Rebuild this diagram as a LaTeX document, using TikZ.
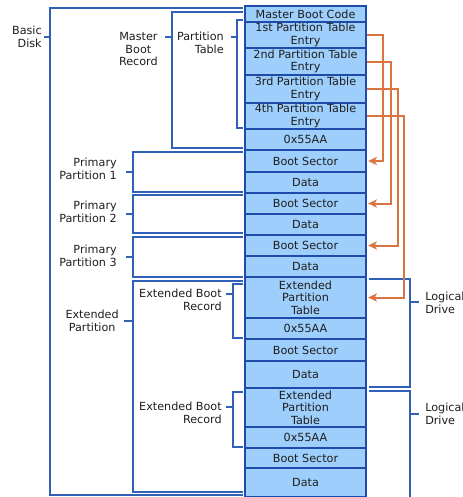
\documentclass[tikz,border=0pt]{standalone}
\usepackage{fontspec}
\setmainfont{DejaVu Sans}
\usetikzlibrary{arrows.meta}
\definecolor{cellfill}{HTML}{9ECEFB}
\definecolor{cellborder}{HTML}{1F4BAA}
\definecolor{brcol}{HTML}{3060B8}
\definecolor{orng}{HTML}{DB7440}
\definecolor{txt}{HTML}{1E1E1E}
\newcommand\cellnode[4]{\node[cell, minimum height={(#3-#2)*0.75pt}] (#1) at (305.5,{(#2+#3)/2}) {#4};}
\begin{document}
\begin{tikzpicture}[x=0.75pt,y=-0.75pt,
  font=\fontsize{8.4}{9.5}\selectfont,
  cell/.style={draw=cellborder, fill=cellfill, line width=0.8pt, minimum width=90.75pt, inner sep=0pt, align=center, text=txt},
  br/.style={draw=brcol, line width=1.2pt},
  lbl/.style={text=txt, inner sep=0pt},
  oarr/.style={draw=orng, line width=1.5pt, -{Stealth[length=6.5pt,width=6pt,inset=1.5pt]}, shorten >=1.2pt}]
\useasboundingbox (0,0) rectangle (463,497);
% brackets (left)
\draw[br] (243,8) -- (50,8) -- (50,495) -- (243,495);
\draw[br] (44,37) -- (50,37);
\node[lbl, anchor=east, align=right] (bd) at (42,37) {Basic\\Disk};
\draw[br] (243,12) -- (172,12) -- (172,148) -- (243,148);
\draw[br] (165,37) -- (172,37);
\node[lbl, anchor=east, align=center] (mbr) at (158,49) {Master\\Boot\\Record};
\draw[br] (243,20) -- (237,20) -- (237,128) -- (243,128);
\draw[br] (231,37) -- (237,37);
\node[lbl, anchor=east, align=right] (ptl) at (224,43) {Partition\\Table};
\draw[br] (243,152) -- (133,152) -- (133,192) -- (243,192);
\draw[br] (126,172) -- (133,172);
\node[lbl, anchor=east, align=right] (pp1) at (117,169) {Primary\\Partition 1};
\draw[br] (243,195) -- (133,195) -- (133,233) -- (243,233);
\draw[br] (126,214) -- (133,214);
\node[lbl, anchor=east, align=right] (pp2) at (117,212) {Primary\\Partition 2};
\draw[br] (243,237) -- (133,237) -- (133,277) -- (243,277);
\draw[br] (126,257) -- (133,257);
\node[lbl, anchor=east, align=right] (pp3) at (117,256) {Primary\\Partition 3};
\draw[br] (243,281) -- (133,281) -- (133,492) -- (243,492);
\draw[br] (124,321) -- (133,321);
\node[lbl, anchor=east, align=center] (exp) at (119,321) {Extended\\Partition};
\draw[br] (243,284) -- (233,284) -- (233,338) -- (243,338);
\draw[br] (226,294) -- (233,294);
\node[lbl, anchor=east, align=right] (ebr1) at (222,300) {Extended Boot\\Record};
\draw[br] (243,392) -- (233,392) -- (233,447) -- (243,447);
\draw[br] (226,407) -- (233,407);
\node[lbl, anchor=east, align=right] (ebr2) at (222,413) {Extended Boot\\Record};
% brackets (right)
\draw[br] (369,279) -- (410,279) -- (410,387) -- (369,387);
\draw[br] (410,302) -- (419,302);
\node[lbl, anchor=west, align=left] (ld1) at (425,303) {Logical\\Drive};
\draw[br] (369,391) -- (410,391) -- (410,499);
\draw[br] (410,414) -- (419,414);
\node[lbl, anchor=west, align=left] (ld2) at (425,414) {Logical\\Drive};
% cells
\cellnode{mbc}{6}{22}{Master Boot Code}
\cellnode{pa}{22}{48}{1st Partition Table\\Entry}
\cellnode{pb}{48}{75}{2nd Partition Table\\Entry}
\cellnode{pc}{75}{103}{3rd Partition Table\\Entry}
\cellnode{pd}{103}{129}{4th Partition Table\\Entry}
\cellnode{sig}{129}{150}{0x55AA}
\cellnode{bsa}{150}{172}{Boot Sector}
\cellnode{da}{172}{193}{Data}
\cellnode{bsb}{193}{214}{Boot Sector}
\cellnode{db}{214}{235}{Data}
\cellnode{bsc}{235}{256}{Boot Sector}
\cellnode{dc}{256}{277}{Data}
\cellnode{epta}{277}{318}{Extended\\Partition\\Table}
\cellnode{siga}{318}{339}{0x55AA}
\cellnode{ebsa}{339}{361}{Boot Sector}
\cellnode{eda}{361}{388}{Data}
\cellnode{eptb}{388}{427}{Extended\\Partition\\Table}
\cellnode{sigb}{427}{448}{0x55AA}
\cellnode{ebsb}{448}{468}{Boot Sector}
\cellnode{edb}{468}{497}{Data}
% orange arrows
\coordinate (va) at (383,0);
\coordinate (vb) at (391,0);
\coordinate (vc) at (398,0);
\coordinate (vd) at (404,0);
\draw[oarr] (pa.east) -- (pa.east -| va) |- (bsa.east);
\draw[oarr] (pb.east) -- (pb.east -| vb) |- (bsb.east);
\draw[oarr] (pc.east) -- (pc.east -| vc) |- (bsc.east);
\draw[oarr] (pd.east) -- (pd.east -| vd) |- (epta.east);
\end{tikzpicture}
\end{document}
